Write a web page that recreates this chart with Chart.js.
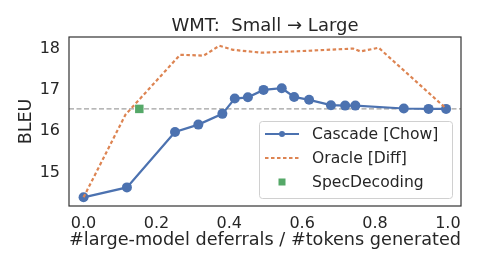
<!DOCTYPE html>
<html>
<head>
<meta charset="utf-8">
<script src="https://cdn.jsdelivr.net/npm/chart.js@4.4.1/dist/chart.umd.min.js"></script>
<style>
html,body{margin:0;padding:0;background:#fff}
#wrap{width:480px;height:270px}
</style>
</head>
<body>
<div id="wrap"><canvas id="chart" width="480" height="270"></canvas></div>
<script>
// values
const cascadeX=[0.0,0.119,0.251,0.315,0.381,0.415,0.451,0.494,0.544,0.578,0.619,0.679,0.718,0.746,0.879,0.947,0.995]
const cascadeY=[14.40,14.64,15.98,16.16,16.42,16.79,16.82,17.00,17.04,16.83,16.76,16.63,16.62,16.62,16.55,16.54,16.54]

const oracleX=[0.0,0.115,0.265,0.33,0.373,0.41,0.49,0.60,0.74,0.76,0.81,0.995]
const oracleY=[14.40,16.40,17.85,17.83,18.07,17.97,17.90,17.94,18.00,17.93,18.02,16.55]

const specX=[0.153]
const specY=[16.54]

const refBleu=16.54

const xTicks=[0,0.2,0.4,0.6,0.8,1.0]
const yTicks=[15,16,17,18]

const blue="#4c72b0"
const orange="#dd8452"
const green="#55a868"
const ink="#262626"
const family="'DejaVu Sans', sans-serif"

const pts=(xs,ys)=>xs.map((x,i)=>({x:x,y:ys[i]}))

// dashed horizontal reference line, drawn through the y scale
const refLine={
id:"refLine",
beforeDatasetsDraw(chart){
const {ctx,chartArea:a,scales:{y}}=chart
const py=y.getPixelForValue(refBleu)
ctx.save()
ctx.strokeStyle="#a0a0a0"
ctx.lineWidth=1.3
ctx.setLineDash([5,2.5])
ctx.beginPath()
ctx.moveTo(a.left,py)
ctx.lineTo(a.right,py)
ctx.stroke()
ctx.restore()
}
}

// frame + legend inside the plot
const frameLegend={
id:"frameLegend",
afterDraw(chart){
const {ctx,chartArea:a}=chart
ctx.save()
ctx.strokeStyle="#333"
ctx.lineWidth=1.2
ctx.strokeRect(a.left,a.top,a.right-a.left,a.bottom-a.top)

const w=193,h=77
const bx=a.right-9-w, by=a.bottom-8-h
ctx.fillStyle="rgba(255,255,255,0.85)"
ctx.strokeStyle="#d0d0d0"
ctx.lineWidth=1
ctx.beginPath()
ctx.roundRect(bx+0.5,by+0.5,w,h,3)
ctx.fill()
ctx.stroke()

ctx.font="15.6px "+family
ctx.textBaseline="middle"
ctx.fillStyle=ink
chart.data.datasets.forEach((ds,i)=>{
const cy=by+13+i*24
const x0=bx+6,x1=bx+40
ctx.save()
if(ds.showLine!==false){
ctx.strokeStyle=ds.borderColor
ctx.lineWidth=ds.borderWidth
ctx.setLineDash(ds.borderDash||[])
ctx.beginPath()
ctx.moveTo(x0,cy)
ctx.lineTo(x1,cy)
ctx.stroke()
}
ctx.setLineDash([])
ctx.fillStyle=ds.pointBackgroundColor||ds.backgroundColor
if(ds.pointStyle==="rect"){
ctx.fillRect((x0+x1)/2-3.5,cy-3.5,7,7)
}else if(ds.pointRadius>0){
ctx.beginPath()
ctx.arc((x0+x1)/2,cy,3,0,Math.PI*2)
ctx.fill()
}
ctx.restore()
ctx.fillText(ds.label,bx+53,cy+1)
})
ctx.restore()
}
}

new Chart(document.getElementById("chart"),{
type:"scatter",
data:{
datasets:[
{
label:"Cascade [Chow]",
data:pts(cascadeX,cascadeY),
showLine:true,
borderColor:blue,
backgroundColor:blue,
pointBackgroundColor:blue,
borderWidth:2.2,
pointRadius:5,
pointBorderWidth:0,
order:2
},
{
label:"Oracle [Diff]",
data:pts(oracleX,oracleY),
showLine:true,
borderColor:orange,
backgroundColor:orange,
borderWidth:2.2,
borderDash:[3.5,2.5],
pointRadius:0,
order:1
},
{
label:"SpecDecoding",
data:pts(specX,specY),
showLine:false,
borderColor:green,
backgroundColor:green,
pointBackgroundColor:green,
pointStyle:"rect",
pointRadius:6,
pointBorderWidth:0,
order:0
}
]
},
options:{
responsive:false,
animation:false,
events:[],
layout:{padding:{left:0,right:19,top:0,bottom:0}},
plugins:{
legend:{display:false},
tooltip:{enabled:false},
title:{
display:true,
fullSize:false,
text:"WMT:  Small \u2192 Large",
color:ink,
font:{family:family,size:18,weight:"normal"},
padding:{top:16,bottom:-0.6}
}
},
scales:{
x:{
type:"linear",
min:-0.04,
max:1.036,
afterBuildTicks(s){s.ticks=xTicks.map(v=>({value:v}))},
afterFit(s){s.height=64},
grid:{display:false,drawTicks:false},
border:{display:false},
ticks:{color:ink,font:{family:family,size:16},padding:8,maxRotation:0,callback:v=>v.toFixed(1)},
title:{display:true,text:"#large-model deferrals / #tokens generated",color:ink,font:{family:family,size:18},padding:{top:0,bottom:19}}
},
y:{
type:"linear",
min:14.19,
max:18.28,
afterBuildTicks(s){s.ticks=yTicks.map(v=>({value:v}))},
afterFit(s){s.width=69},
grid:{display:false,drawTicks:false},
border:{display:false},
ticks:{color:ink,font:{family:family,size:16},padding:9,callback:v=>String(v)},
title:{display:true,text:"BLEU",color:ink,font:{family:family,size:17.5},padding:{top:16,bottom:0}}
}
}
},
plugins:[refLine,frameLegend]
})
</script>
</body>
</html>
